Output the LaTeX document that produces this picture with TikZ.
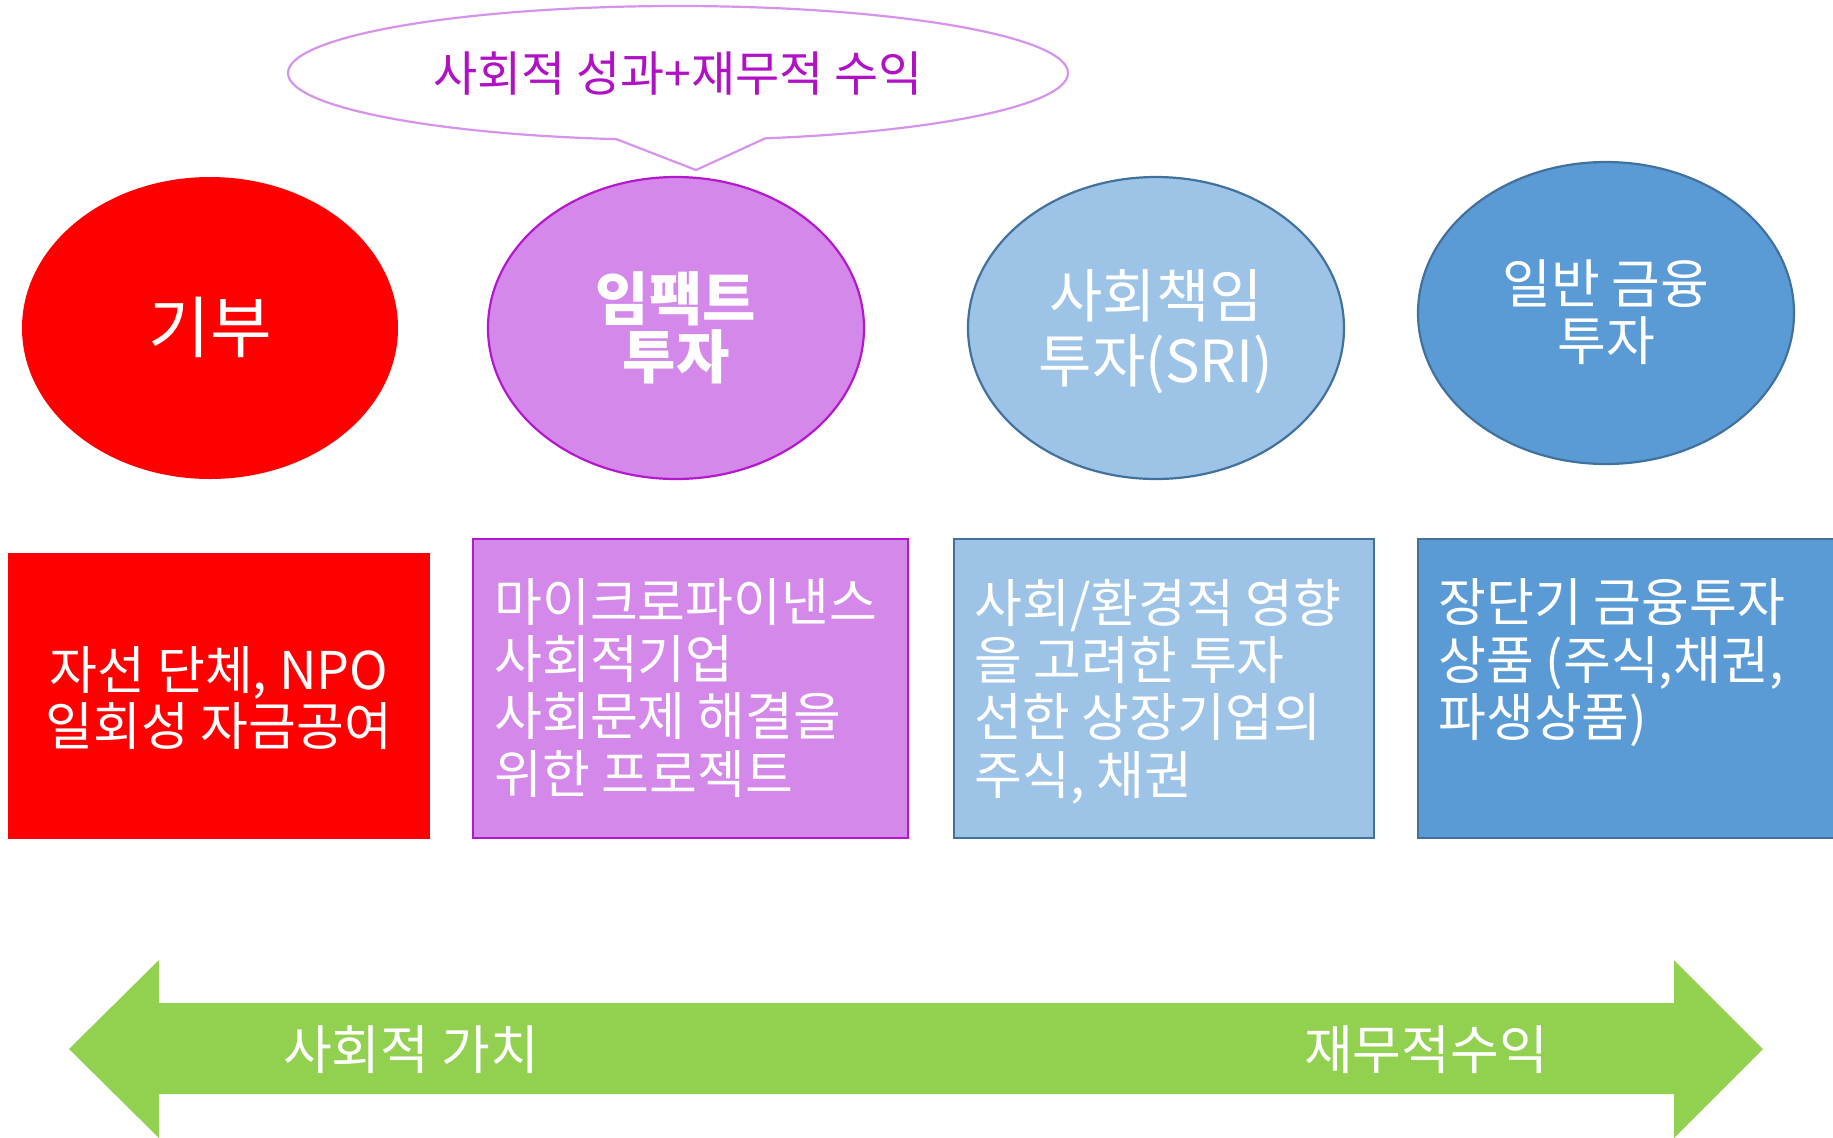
\documentclass[tikz,border=0pt]{standalone}
\usepackage{fontspec}
\setmainfont{Noto Sans CJK KR}
\usetikzlibrary{shapes.geometric}

\newlength{\du}
\setlength{\du}{0.5pt}

\definecolor{gibured}{rgb}{1.000000, 0.000000, 0.000000}
\definecolor{impactfill}{rgb}{0.831373, 0.533333, 0.917647}
\definecolor{impactline}{rgb}{0.701961, 0.094118, 0.800000}
\definecolor{calloutline}{rgb}{0.835294, 0.576471, 0.925490}
\definecolor{callouttext}{rgb}{0.694118, 0.066667, 0.772549}
\definecolor{srifill}{rgb}{0.615686, 0.764706, 0.901961}
\definecolor{finfill}{rgb}{0.356863, 0.607843, 0.835294}
\definecolor{blueline}{rgb}{0.254902, 0.443137, 0.611765}
\definecolor{arrowgreen}{rgb}{0.572549, 0.815686, 0.313725}

\tikzset{
  oval/.style={ellipse, minimum width=376\du, minimum height=302\du, inner sep=0pt, line width=1.1pt},
  infobox/.style={rectangle, inner sep=0pt, line width=1.1pt},
  boxline/.style={text=white, inner sep=0pt, anchor=base west, font=\fontsize{26}{30}\selectfont},
  ovalline/.style={text=white, inner sep=0pt, anchor=base, font=\fontsize{29}{33}\selectfont},
}

\begin{document}
\begin{tikzpicture}
\pgftransformxscale{1.000000}
\pgftransformyscale{-1.000000}
\useasboundingbox (0\du,0\du) rectangle (1833\du,1137\du);

% callout
\node[ellipse, draw=calloutline, fill=white, line width=1.1pt, minimum width=780\du, minimum height=134\du, inner sep=0pt] (callout) at (678\du,73\du) {};
\fill[white] (616\du,139\du)--(696\du,170\du)--(766\du,138\du)--(766\du,132\du)--(616\du,132\du)--cycle;
\draw[calloutline, line width=1.1pt] (616\du,139\du)--(696\du,170\du)--(766\du,138\du);
\node[text=callouttext, inner sep=0pt, anchor=base, font=\fontsize{24}{28}\selectfont] (callouttxt) at (678\du,91\du) {사회적 성과+재무적 수익};

% ovals
\node[oval, fill=gibured] (gibu) at (210\du,328\du) {};
\node[oval, fill=impactfill, draw=impactline] (impact) at (676\du,328\du) {};
\node[oval, fill=srifill, draw=blueline] (sri) at (1156\du,328\du) {};
\node[oval, fill=finfill, draw=blueline] (fin) at (1606\du,313\du) {};

\node[ovalline, font=\fontsize{33.5}{37}\selectfont] (gibutxt) at (210\du,352\du) {기부};
\node[ovalline, font=\fontsize{29}{33}\selectfont\bfseries] (impact1) at (676\du,320\du) {임팩트};
\node[ovalline, font=\fontsize{29}{33}\selectfont\bfseries] (impact2) at (676\du,378\du) {투자};
\node[ovalline] (sri1) at (1156\du,317\du) {사회책임};
\node[ovalline] (sri2) at (1156\du,382\du) {투자(SRI)};
\node[ovalline, font=\fontsize{26.5}{30}\selectfont] (fin1) at (1606\du,303\du) {일반 금융};
\node[ovalline, font=\fontsize{26.5}{30}\selectfont] (fin2) at (1606\du,360\du) {투자};

% boxes
\node[infobox, fill=gibured, minimum width=422\du, minimum height=286\du] (npobox) at (219\du,696\du) {};
\node[infobox, fill=impactfill, draw=impactline, minimum width=435\du, minimum height=299\du] (microbox) at (690.5\du,688.5\du) {};
\node[infobox, fill=srifill, draw=blueline, minimum width=420\du, minimum height=299\du] (sribox) at (1164\du,688.5\du) {};
\node[infobox, fill=finfill, draw=blueline, minimum width=432\du, minimum height=299\du] (finbox) at (1634\du,688.5\du) {};

\node[boxline, anchor=base] (npo1) at (219\du,689\du) {자선 단체, NPO};
\node[boxline, anchor=base] (npo2) at (219\du,745\du) {일회성 자금공여};

\node[boxline] (micro1) at (494\du,621\du) {마이크로파이낸스};
\node[boxline] (micro2) at (494\du,678\du) {사회적기업};
\node[boxline] (micro3) at (494\du,735\du) {사회문제 해결을};
\node[boxline] (micro4) at (494\du,793\du) {위한 프로젝트};

\node[boxline] (sriinfo1) at (974\du,622\du) {사회/환경적 영향};
\node[boxline] (sriinfo2) at (974\du,679\du) {을 고려한 투자};
\node[boxline] (sriinfo3) at (974\du,736\du) {선한 상장기업의};
\node[boxline] (sriinfo4) at (974\du,794\du) {주식, 채권};

\node[boxline] (fininfo1) at (1438\du,621\du) {장단기 금융투자};
\node[boxline] (fininfo2) at (1438\du,679\du) {상품 (주식,채권,};
\node[boxline] (fininfo3) at (1438\du,736\du) {파생상품)};

% double arrow
\fill[arrowgreen] (69\du,1049\du)--(159\du,960\du)--(159\du,1003\du)--(1674\du,1003\du)--(1674\du,960\du)--(1763\du,1049\du)--(1674\du,1138\du)--(1674\du,1094\du)--(159\du,1094\du)--(159\du,1138\du)--cycle;
\node[boxline, anchor=base, font=\fontsize{26.5}{30}\selectfont] (socval) at (411\du,1069\du) {사회적 가치};
\node[boxline, anchor=base, font=\fontsize{26.5}{30}\selectfont] (finret) at (1426\du,1069\du) {재무적수익};
\end{tikzpicture}
\end{document}
